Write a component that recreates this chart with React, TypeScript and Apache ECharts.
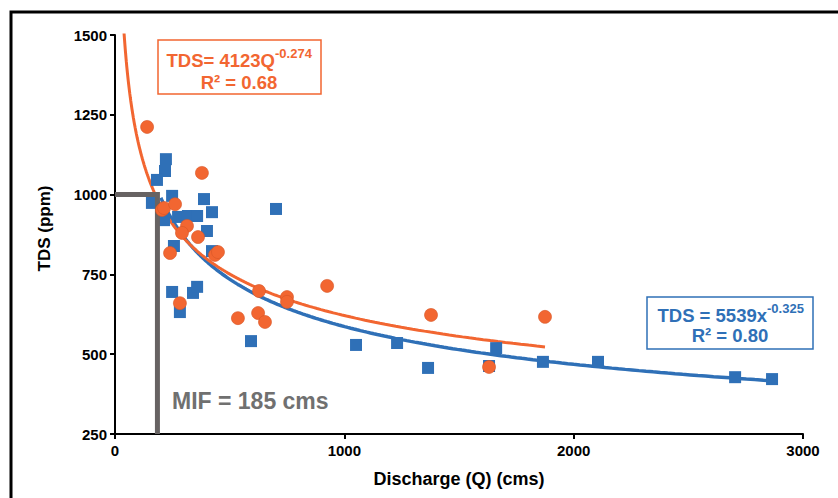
import React, { useEffect, useRef } from "react";
import * as echarts from "echarts";

// Axis ticks
const X_TICKS = [0, 1000, 2000, 3000];
const Y_TICKS = [250, 500, 750, 1000, 1250, 1500];

// Blue squares (discharge Q in cms, TDS in ppm)
const blueQ = [222, 218, 183, 249, 161, 214, 275, 318, 358, 388, 423, 401, 423, 257, 702, 249, 340, 358, 283, 593, 1051, 1230, 1365, 1662, 1631, 1866, 2106, 2704, 2865];
const blueTDS = [1111, 1074, 1046, 996, 974, 920, 930, 933, 933, 986, 945, 886, 823, 839, 955, 695, 692, 711, 632, 541, 529, 535, 457, 519, 463, 476, 476, 428, 422];

// Orange circles
const orangeQ = [140, 379, 205, 214, 262, 314, 292, 362, 436, 449, 240, 283, 628, 750, 750, 925, 536, 624, 654, 1378, 1875, 1631];
const orangeTDS = [1212, 1068, 952, 958, 970, 902, 880, 867, 811, 820, 817, 660, 698, 679, 664, 714, 613, 629, 601, 623, 617, 460];

// Power-law trend lines TDS = a * Q^b
const orangeFit = { a: 4123, b: -0.274, from: 39, to: 1875 };
const blueFit = { a: 5539, b: -0.325, from: 200, to: 2865 };

// Minimum instream flow marker
const MIF_Q = [0, 185, 185];
const MIF_TDS = [1000, 1000, 250];

const ORANGE = "#F26631";
const BLUE = "#2F70B7";
const GRAY = "#676363";
const FONT = "Liberation Sans, Arial, sans-serif";

function fitCurve(f: { a: number; b: number; from: number; to: number }) {
  const pts: number[][] = [];
  const n = 200;
  const l0 = Math.log(f.from);
  const l1 = Math.log(f.to);
  for (let i = 0; i <= n; i++) {
    const q = Math.exp(l0 + ((l1 - l0) * i) / n);
    pts.push([q, f.a * Math.pow(q, f.b)]);
  }
  return pts;
}

export default function App() {
  const ref = useRef<HTMLDivElement>(null);
  useEffect(() => {
    document.body.style.margin = "0";
    if (!ref.current) return;
    const chart = echarts.init(ref.current, null, { renderer: "svg" });
    const labelStyle = {
      color: "#000",
      fontWeight: "bold" as const,
      fontFamily: FONT,
      fontSize: 15,
      formatter: (v: number) => String(v),
    };
    chart.setOption({
      animation: false,
      backgroundColor: "#fff",
      grid: { left: 115, right: 35, top: 35, bottom: 64 },
      xAxis: {
        type: "value",
        min: X_TICKS[0],
        max: X_TICKS[X_TICKS.length - 1],
        interval: X_TICKS[1] - X_TICKS[0],
        axisLine: { show: true, onZero: false, lineStyle: { color: "#000", width: 2 } },
        axisTick: { show: true, length: 5, lineStyle: { color: "#000", width: 2 } },
        splitLine: { show: false },
        axisLabel: { ...labelStyle, margin: 9 },
        name: "Discharge (Q) (cms)",
        nameLocation: "middle",
        nameGap: 36,
        nameTextStyle: { color: "#000", fontWeight: "bold", fontFamily: FONT, fontSize: 18 },
      },
      yAxis: {
        type: "value",
        min: Y_TICKS[0],
        max: Y_TICKS[Y_TICKS.length - 1],
        interval: Y_TICKS[1] - Y_TICKS[0],
        axisLine: { show: true, onZero: false, lineStyle: { color: "#000", width: 2 } },
        axisTick: { show: true, length: 5, lineStyle: { color: "#000", width: 2 } },
        splitLine: { show: false },
        axisLabel: { ...labelStyle, margin: 8 },
        name: "TDS (ppm)",
        nameLocation: "middle",
        nameGap: 62,
        nameTextStyle: { color: "#000", fontWeight: "bold", fontFamily: FONT, fontSize: 17, padding: [0, 0, 0, 12] },
      },
      series: [
        {
          type: "line",
          data: fitCurve(blueFit),
          showSymbol: false,
          lineStyle: { color: BLUE, width: 3.5 },
          z: 2,
        },
        {
          type: "line",
          data: fitCurve(orangeFit),
          showSymbol: false,
          lineStyle: { color: ORANGE, width: 3 },
          z: 2,
        },
        {
          type: "scatter",
          data: blueQ.map((q, i) => [q, blueTDS[i]]),
          symbol: "rect",
          symbolSize: 12,
          itemStyle: { color: BLUE, opacity: 1 },
          z: 3,
        },
        {
          type: "line",
          data: MIF_Q.map((q, i) => [q, MIF_TDS[i]]),
          showSymbol: false,
          lineStyle: { color: GRAY, width: 5, cap: "butt", join: "miter" },
          z: 4,
        },
        {
          type: "scatter",
          data: orangeQ.map((q, i) => [q, orangeTDS[i]]),
          symbol: "circle",
          symbolSize: 13,
          itemStyle: { color: ORANGE, borderColor: "#D65626", borderWidth: 0.6, opacity: 1 },
          z: 5,
        },
      ],
      graphic: [
        {
          type: "rect",
          shape: { x: 11, y: 12, width: 900, height: 600 },
          style: { fill: "none", stroke: "#000", lineWidth: 3 },
          silent: true,
        },
        {
          type: "rect",
          shape: { x: 158, y: 40, width: 163, height: 54 },
          style: { fill: "#fff", stroke: ORANGE, lineWidth: 1.5 },
          z: 10,
        },
        {
          type: "text",
          x: 275,
          y: 60,
          style: { text: "TDS= 4123Q", fill: ORANGE, font: `bold 18.5px ${FONT}`, textVerticalAlign: "middle", textAlign: "right" },
          z: 11,
        },
        {
          type: "text",
          x: 275,
          y: 53,
          style: { text: "-0.274", fill: ORANGE, font: `bold 13px ${FONT}`, textVerticalAlign: "middle", textAlign: "left" },
          z: 11,
        },
        {
          type: "text",
          x: 239,
          y: 82,
          style: { text: "R² = 0.68", fill: ORANGE, font: `bold 18.5px ${FONT}`, textVerticalAlign: "middle", textAlign: "center" },
          z: 11,
        },
        {
          type: "rect",
          shape: { x: 647, y: 297, width: 166, height: 52 },
          style: { fill: "#fff", stroke: BLUE, lineWidth: 1.5 },
          z: 10,
        },
        {
          type: "text",
          x: 767,
          y: 315,
          style: { text: "TDS = 5539x", fill: BLUE, font: `bold 18.5px ${FONT}`, textVerticalAlign: "middle", textAlign: "right" },
          z: 11,
        },
        {
          type: "text",
          x: 767,
          y: 308,
          style: { text: "-0.325", fill: BLUE, font: `bold 13px ${FONT}`, textVerticalAlign: "middle", textAlign: "left" },
          z: 11,
        },
        {
          type: "text",
          x: 730,
          y: 335,
          style: { text: "R² = 0.80", fill: BLUE, font: `bold 18.5px ${FONT}`, textVerticalAlign: "middle", textAlign: "center" },
          z: 11,
        },
        {
          type: "text",
          x: 172,
          y: 401,
          style: { text: "MIF = 185 cms", fill: "#707070", font: `bold 23px ${FONT}`, textVerticalAlign: "middle", textAlign: "left" },
          z: 11,
        },
      ],
    });
    return () => chart.dispose();
  }, []);
  return <div ref={ref} style={{ width: 838, height: 498 }} />;
}
